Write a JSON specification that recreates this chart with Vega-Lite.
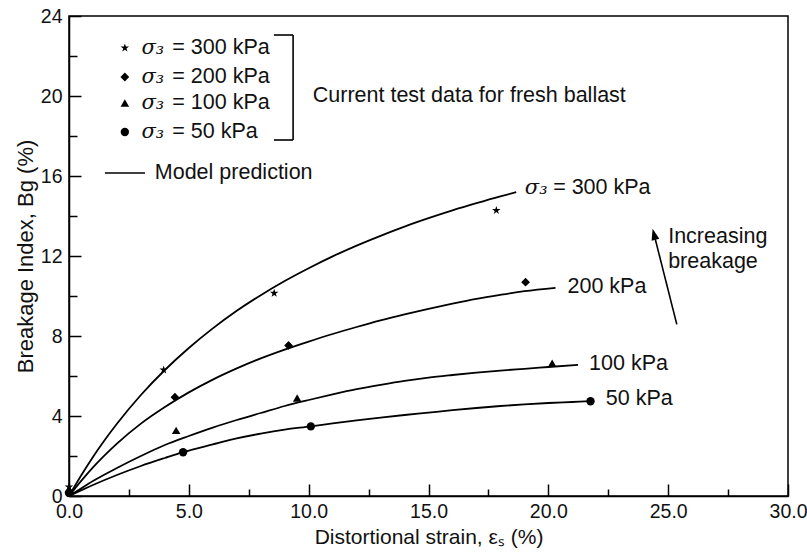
{
  "$schema": "https://vega.github.io/schema/vega-lite/v6.json",
  "width": 719,
  "height": 480,
  "autosize": {"type": "none"},
  "padding": {"left": 69, "top": 16, "right": 19, "bottom": 63},
  "background": "white",
  "config": {
    "view": {"stroke": "black", "strokeWidth": 1.5},
    "font": "Liberation Sans",
    "axis": {"domainColor": "black", "tickColor": "black", "labelColor": "#111", "titleColor": "#111", "grid": false, "labelFont": "Liberation Sans", "titleFont": "Liberation Sans", "titleFontWeight": "normal", "domainWidth": 1.5, "tickWidth": 1.5}
  },
  "datasets": {
    "curves": [
      {"s": "300", "x": 0, "y": 0}, {"s": "300", "x": 0.5, "y": 1.01}, {"s": "300", "x": 1, "y": 1.95}, {"s": "300", "x": 2, "y": 3.61}, {"s": "300", "x": 3, "y": 5.05}, {"s": "300", "x": 4, "y": 6.3}, {"s": "300", "x": 5, "y": 7.4}, {"s": "300", "x": 6, "y": 8.38}, {"s": "300", "x": 7, "y": 9.26}, {"s": "300", "x": 8, "y": 10.04}, {"s": "300", "x": 9, "y": 10.75}, {"s": "300", "x": 10, "y": 11.39}, {"s": "300", "x": 11, "y": 11.98}, {"s": "300", "x": 12, "y": 12.52}, {"s": "300", "x": 13, "y": 13.01}, {"s": "300", "x": 14, "y": 13.47}, {"s": "300", "x": 15, "y": 13.89}, {"s": "300", "x": 16, "y": 14.28}, {"s": "300", "x": 17, "y": 14.64}, {"s": "300", "x": 18, "y": 14.98}, {"s": "300", "x": 18.66, "y": 15.19},
      {"s": "200", "x": 0, "y": 0}, {"s": "200", "x": 0.5, "y": 0.74}, {"s": "200", "x": 1, "y": 1.43}, {"s": "200", "x": 2, "y": 2.62}, {"s": "200", "x": 3, "y": 3.62}, {"s": "200", "x": 4, "y": 4.45}, {"s": "200", "x": 5, "y": 5.18}, {"s": "200", "x": 6, "y": 5.82}, {"s": "200", "x": 7, "y": 6.38}, {"s": "200", "x": 8, "y": 6.88}, {"s": "200", "x": 9, "y": 7.32}, {"s": "200", "x": 10, "y": 7.72}, {"s": "200", "x": 11, "y": 8.1}, {"s": "200", "x": 12, "y": 8.45}, {"s": "200", "x": 13, "y": 8.78}, {"s": "200", "x": 14, "y": 9.08}, {"s": "200", "x": 15, "y": 9.36}, {"s": "200", "x": 16, "y": 9.62}, {"s": "200", "x": 17, "y": 9.86}, {"s": "200", "x": 18, "y": 10.06}, {"s": "200", "x": 19, "y": 10.24}, {"s": "200", "x": 20.3, "y": 10.41},
      {"s": "100", "x": 0, "y": 0}, {"s": "100", "x": 0.5, "y": 0.38}, {"s": "100", "x": 1, "y": 0.75}, {"s": "100", "x": 2, "y": 1.4}, {"s": "100", "x": 3, "y": 2.0}, {"s": "100", "x": 4, "y": 2.55}, {"s": "100", "x": 5, "y": 3.0}, {"s": "100", "x": 6, "y": 3.42}, {"s": "100", "x": 7, "y": 3.8}, {"s": "100", "x": 8, "y": 4.15}, {"s": "100", "x": 9, "y": 4.5}, {"s": "100", "x": 10, "y": 4.8}, {"s": "100", "x": 11, "y": 5.08}, {"s": "100", "x": 12, "y": 5.34}, {"s": "100", "x": 13, "y": 5.56}, {"s": "100", "x": 14, "y": 5.76}, {"s": "100", "x": 15, "y": 5.92}, {"s": "100", "x": 16, "y": 6.05}, {"s": "100", "x": 17, "y": 6.17}, {"s": "100", "x": 18, "y": 6.27}, {"s": "100", "x": 19, "y": 6.36}, {"s": "100", "x": 20, "y": 6.45}, {"s": "100", "x": 21.24, "y": 6.56},
      {"s": "50", "x": 0, "y": 0}, {"s": "50", "x": 0.5, "y": 0.28}, {"s": "50", "x": 1, "y": 0.55}, {"s": "50", "x": 2, "y": 1.05}, {"s": "50", "x": 3, "y": 1.5}, {"s": "50", "x": 4, "y": 1.9}, {"s": "50", "x": 4.76, "y": 2.19}, {"s": "50", "x": 6, "y": 2.58}, {"s": "50", "x": 7, "y": 2.88}, {"s": "50", "x": 8, "y": 3.12}, {"s": "50", "x": 9, "y": 3.32}, {"s": "50", "x": 10.09, "y": 3.48}, {"s": "50", "x": 11, "y": 3.63}, {"s": "50", "x": 12, "y": 3.78}, {"s": "50", "x": 13, "y": 3.92}, {"s": "50", "x": 14, "y": 4.05}, {"s": "50", "x": 15, "y": 4.17}, {"s": "50", "x": 16, "y": 4.29}, {"s": "50", "x": 17, "y": 4.4}, {"s": "50", "x": 18, "y": 4.5}, {"s": "50", "x": 19, "y": 4.58}, {"s": "50", "x": 20, "y": 4.65}, {"s": "50", "x": 21, "y": 4.7}, {"s": "50", "x": 21.76, "y": 4.74}
    ],
    "obs": [
      {"s": "300", "x": 0, "y": 0.45}, {"s": "300", "x": 3.95, "y": 6.3}, {"s": "300", "x": 8.56, "y": 10.14}, {"s": "300", "x": 17.83, "y": 14.28},
      {"s": "200", "x": 0, "y": 0.2}, {"s": "200", "x": 4.42, "y": 4.94}, {"s": "200", "x": 9.16, "y": 7.53}, {"s": "200", "x": 19.05, "y": 10.69},
      {"s": "100", "x": 0, "y": 0.35}, {"s": "100", "x": 4.47, "y": 3.28}, {"s": "100", "x": 9.52, "y": 4.9}, {"s": "100", "x": 20.16, "y": 6.64},
      {"s": "50", "x": 0, "y": 0.15}, {"s": "50", "x": 4.76, "y": 2.19}, {"s": "50", "x": 10.09, "y": 3.48}, {"s": "50", "x": 21.76, "y": 4.74}
    ],
    "legendPts": [
      {"s": "300", "x": 2.33, "y": 22.4}, {"s": "200", "x": 2.33, "y": 20.95}, {"s": "100", "x": 2.33, "y": 19.65}, {"s": "50", "x": 2.33, "y": 18.2}
    ],
    "sigmas": [
      {"x": 3.02, "y": 22.4, "t": "σ₃"}, {"x": 3.02, "y": 20.95, "t": "σ₃"}, {"x": 3.02, "y": 19.65, "t": "σ₃"}, {"x": 3.02, "y": 18.2, "t": "σ₃"}, {"x": 19.02, "y": 15.4, "t": "σ₃"}
    ],
    "texts": [
      {"x": 4.31, "y": 22.4, "t": "= 300 kPa"}, {"x": 4.31, "y": 20.95, "t": "= 200 kPa"}, {"x": 4.31, "y": 19.65, "t": "= 100 kPa"}, {"x": 4.31, "y": 18.2, "t": "= 50 kPa"},
      {"x": 10.17, "y": 20.0, "t": "Current test data for fresh ballast"},
      {"x": 3.58, "y": 16.15, "t": "Model prediction"},
      {"x": 20.2, "y": 15.4, "t": "= 300 kPa"},
      {"x": 20.8, "y": 10.43, "t": "200 kPa"},
      {"x": 21.7, "y": 6.62, "t": "100 kPa"},
      {"x": 22.4, "y": 4.87, "t": "50 kPa"},
      {"x": 25.0, "y": 12.93, "t": "Increasing"},
      {"x": 25.0, "y": 11.68, "t": "breakage"}
    ],
    "rules": [
      {"x": 9.35, "x2": 9.35, "y": 17.8, "y2": 23.05},
      {"x": 8.55, "x2": 9.35, "y": 23.05, "y2": 23.05},
      {"x": 8.55, "x2": 9.35, "y": 17.8, "y2": 17.8},
      {"x": 1.5, "x2": 3.17, "y": 16.15, "y2": 16.15},
      {"x": 25.36, "x2": 24.41, "y": 8.58, "y2": 13.09}
    ],
    "arrowHead": [{"x": 24.41, "y": 13.09}]
  },
  "resolve": {"axis": {"x": "independent", "y": "independent"}},
  "layer": [
    {
      "data": {"name": "curves"},
      "mark": {"type": "line", "color": "black", "strokeWidth": 1.8, "interpolate": "monotone"},
      "encoding": {
        "x": {"field": "x", "type": "quantitative", "scale": {"domain": [0, 30], "nice": false},
          "axis": {"values": [0, 5, 10, 15, 20, 25, 30], "format": ".1f", "tickSize": -12, "labelPadding": 18, "labelFontSize": 19.5, "titleFontSize": 21, "title": "Distortional strain, εₛ  (%)", "titlePadding": 6, "labelFlush": false}},
        "y": {"field": "y", "type": "quantitative", "scale": {"domain": [0, 24], "nice": false},
          "axis": {"values": [0, 4, 8, 12, 16, 20, 24], "format": "d", "tickSize": -12, "labelPadding": 19, "labelFontSize": 19.5, "titleFontSize": 22, "title": "Breakage Index,  Bg  (%)", "titlePadding": 3, "labelFlush": false}},
        "detail": {"field": "s"},
        "order": {"field": "x", "type": "quantitative"}
      }
    },
    {
      "data": {"name": "obs"},
      "mark": {"type": "point", "filled": true, "color": "black", "opacity": 1},
      "encoding": {
        "x": {"field": "x", "type": "quantitative", "axis": {"values": [2.5, 7.5, 12.5, 17.5, 22.5, 27.5], "labels": false, "tickSize": -7, "domain": false, "title": null, "orient": "bottom"}},
        "y": {"field": "y", "type": "quantitative", "axis": {"values": [2, 6, 10, 14, 18, 22], "labels": false, "tickSize": -8, "domain": false, "title": null, "orient": "left"}},
        "shape": {"field": "s", "type": "nominal", "legend": null, "scale": {"domain": ["300", "200", "100", "50"], "range": ["M0,-1L0.2245,-0.309L0.951,-0.309L0.363,0.118L0.588,0.809L0,0.382L-0.588,0.809L-0.363,0.118L-0.951,-0.309L-0.2245,-0.309Z", "diamond", "triangle-up", "circle"]}},
        "size": {"field": "s", "type": "nominal", "legend": null, "scale": {"domain": ["300", "200", "100", "50"], "range": [80, 70, 45, 90]}}
      }
    },
    {
      "data": {"name": "legendPts"},
      "mark": {"type": "point", "filled": true, "color": "black", "opacity": 1},
      "encoding": {
        "x": {"field": "x", "type": "quantitative", "axis": null},
        "y": {"field": "y", "type": "quantitative", "axis": null},
        "shape": {"field": "s", "type": "nominal", "legend": null},
        "size": {"field": "s", "type": "nominal", "legend": null}
      }
    },
    {
      "data": {"name": "rules"},
      "mark": {"type": "rule", "color": "black", "strokeWidth": 1.6},
      "encoding": {
        "x": {"field": "x", "type": "quantitative", "axis": null},
        "x2": {"field": "x2"},
        "y": {"field": "y", "type": "quantitative", "axis": null},
        "y2": {"field": "y2"}
      }
    },
    {
      "data": {"name": "arrowHead"},
      "mark": {"type": "point", "filled": true, "color": "black", "opacity": 1, "shape": "M0,-1L0.7,1L-0.7,1Z", "size": 130, "angle": -14.4},
      "encoding": {
        "x": {"field": "x", "type": "quantitative", "axis": null},
        "y": {"field": "y", "type": "quantitative", "axis": null}
      }
    },
    {
      "data": {"name": "sigmas"},
      "mark": {"type": "text", "align": "left", "baseline": "middle", "fontSize": 21, "fontStyle": "italic", "font": "DejaVu Serif", "color": "#111"},
      "encoding": {
        "x": {"field": "x", "type": "quantitative", "axis": null},
        "y": {"field": "y", "type": "quantitative", "axis": null},
        "text": {"field": "t"}
      }
    },
    {
      "data": {"name": "texts"},
      "mark": {"type": "text", "align": "left", "baseline": "middle", "fontSize": 21.5, "color": "#111"},
      "encoding": {
        "x": {"field": "x", "type": "quantitative", "axis": null},
        "y": {"field": "y", "type": "quantitative", "axis": null},
        "text": {"field": "t"}
      }
    }
  ]
}
